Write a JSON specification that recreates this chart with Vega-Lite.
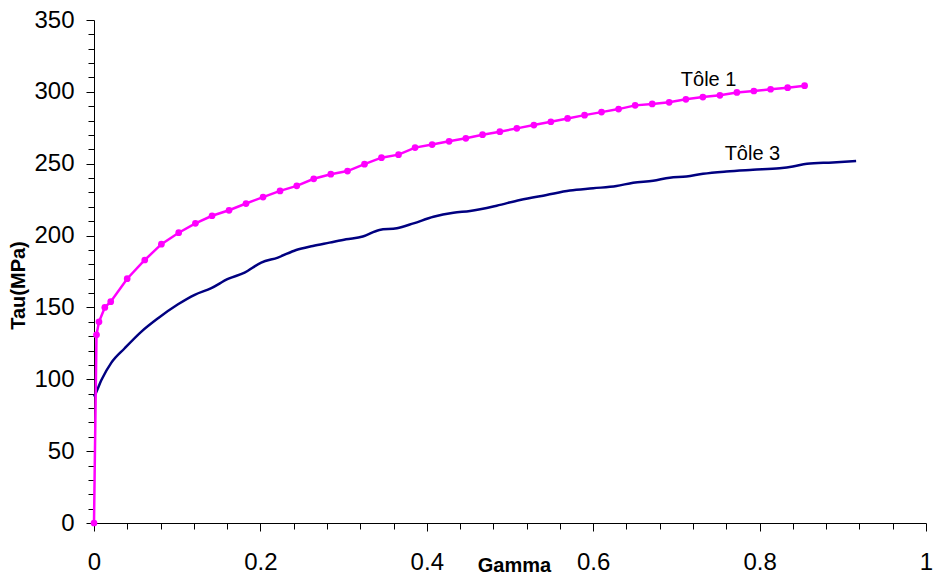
{
  "$schema": "https://vega.github.io/schema/vega-lite/v6.json",
  "width": 832,
  "height": 503,
  "autosize": {"type": "none"},
  "padding": {"left": 94, "top": 20, "right": 13, "bottom": 52},
  "background": "white",
  "config": {
    "view": {"stroke": null},
    "font": "Liberation Sans",
    "axis": {"grid": false, "domainColor": "black", "tickColor": "black", "labelColor": "black", "titleColor": "black", "domainWidth": 1, "tickWidth": 1}
  },
  "datasets": {
    "tole1": [
      {"gamma": 0, "tau": 0},
      {"gamma": 0.003, "tau": 131},
      {"gamma": 0.006, "tau": 140},
      {"gamma": 0.013, "tau": 150},
      {"gamma": 0.0201, "tau": 154},
      {"gamma": 0.0399, "tau": 170},
      {"gamma": 0.061, "tau": 183},
      {"gamma": 0.081, "tau": 194},
      {"gamma": 0.1018, "tau": 202},
      {"gamma": 0.1219, "tau": 208.5},
      {"gamma": 0.1419, "tau": 213.8},
      {"gamma": 0.1623, "tau": 217.6},
      {"gamma": 0.1827, "tau": 222.3},
      {"gamma": 0.2032, "tau": 226.8},
      {"gamma": 0.2236, "tau": 231.1},
      {"gamma": 0.2437, "tau": 234.6},
      {"gamma": 0.2641, "tau": 239.5},
      {"gamma": 0.2846, "tau": 242.7},
      {"gamma": 0.3047, "tau": 244.9},
      {"gamma": 0.3251, "tau": 249.7},
      {"gamma": 0.3455, "tau": 254.2},
      {"gamma": 0.366, "tau": 256.3},
      {"gamma": 0.3859, "tau": 261.2},
      {"gamma": 0.4064, "tau": 263.3},
      {"gamma": 0.4268, "tau": 265.6},
      {"gamma": 0.4469, "tau": 267.7},
      {"gamma": 0.467, "tau": 270.2},
      {"gamma": 0.4878, "tau": 272.3},
      {"gamma": 0.5082, "tau": 274.6},
      {"gamma": 0.5287, "tau": 276.9},
      {"gamma": 0.5491, "tau": 279.2},
      {"gamma": 0.5692, "tau": 281.5},
      {"gamma": 0.5896, "tau": 283.8},
      {"gamma": 0.61, "tau": 285.9},
      {"gamma": 0.6305, "tau": 288},
      {"gamma": 0.6504, "tau": 290.6},
      {"gamma": 0.6709, "tau": 291.6},
      {"gamma": 0.6913, "tau": 292.7},
      {"gamma": 0.7114, "tau": 294.8},
      {"gamma": 0.7318, "tau": 296.4},
      {"gamma": 0.7523, "tau": 297.6},
      {"gamma": 0.7727, "tau": 299.6},
      {"gamma": 0.7931, "tau": 300.6},
      {"gamma": 0.8132, "tau": 301.8},
      {"gamma": 0.8337, "tau": 302.9},
      {"gamma": 0.8541, "tau": 304.3}
    ],
    "tole3": [
      {"gamma": 0, "tau": 88},
      {"gamma": 0.001, "tau": 89},
      {"gamma": 0.0089, "tau": 99.5},
      {"gamma": 0.0209, "tau": 111.6},
      {"gamma": 0.0369, "tau": 121.6},
      {"gamma": 0.057, "tau": 133.2},
      {"gamma": 0.077, "tau": 142.5},
      {"gamma": 0.101, "tau": 152.2},
      {"gamma": 0.121, "tau": 158.8},
      {"gamma": 0.141, "tau": 163.4},
      {"gamma": 0.161, "tau": 169.8},
      {"gamma": 0.181, "tau": 174.2},
      {"gamma": 0.201, "tau": 181.2},
      {"gamma": 0.221, "tau": 184.7},
      {"gamma": 0.243, "tau": 190},
      {"gamma": 0.263, "tau": 192.8},
      {"gamma": 0.283, "tau": 195.1},
      {"gamma": 0.303, "tau": 197.4},
      {"gamma": 0.323, "tau": 199.3},
      {"gamma": 0.343, "tau": 203.9},
      {"gamma": 0.364, "tau": 205.1},
      {"gamma": 0.384, "tau": 208.5},
      {"gamma": 0.408, "tau": 213.1},
      {"gamma": 0.432, "tau": 215.9},
      {"gamma": 0.452, "tau": 217.1},
      {"gamma": 0.484, "tau": 220.8},
      {"gamma": 0.512, "tau": 224.8},
      {"gamma": 0.544, "tau": 228.3},
      {"gamma": 0.572, "tau": 231.3},
      {"gamma": 0.6, "tau": 232.9},
      {"gamma": 0.628, "tau": 234.5},
      {"gamma": 0.648, "tau": 236.8},
      {"gamma": 0.672, "tau": 238.2},
      {"gamma": 0.692, "tau": 240.3},
      {"gamma": 0.712, "tau": 241.1},
      {"gamma": 0.732, "tau": 243},
      {"gamma": 0.76, "tau": 244.6},
      {"gamma": 0.792, "tau": 245.8},
      {"gamma": 0.824, "tau": 246.9},
      {"gamma": 0.84, "tau": 248.1},
      {"gamma": 0.857, "tau": 250},
      {"gamma": 0.888, "tau": 250.9},
      {"gamma": 0.916, "tau": 251.9}
    ],
    "labels": [
      {"gamma": 0.7387, "tau": 303.8, "label": "Tôle 1"},
      {"gamma": 0.7914, "tau": 252.8, "label": "Tôle 3"}
    ]
  },
  "layer": [
    {
      "data": {"name": "tole3"},
      "mark": {"type": "line", "color": "#000080", "strokeWidth": 2.5, "interpolate": "monotone"},
      "encoding": {
        "x": {
          "field": "gamma", "type": "quantitative",
          "scale": {"domain": [0, 1], "nice": false, "zero": false},
          "axis": {
            "orient": "bottom", "values": [0, 0.2, 0.4, 0.6, 0.8, 1], "format": "~g",
            "tickSize": 8, "labelFontSize": 24, "labelPadding": 19, "labelFlush": false, "labelOverlap": false, "labelBound": false,
            "title": "Gamma", "titleFontSize": 20, "titleFontWeight": "bold",
            "titleX": 420, "titleY": 48, "titleBaseline": "alphabetic", "titleAlign": "center"
          }
        },
        "y": {
          "field": "tau", "type": "quantitative",
          "scale": {"domain": [0, 350], "nice": false},
          "axis": {
            "orient": "left", "values": [0, 50, 100, 150, 200, 250, 300, 350],
            "tickSize": 8, "labelFontSize": 24, "labelPadding": 12, "labelOverlap": false,
            "title": "Tau(MPa)", "titleFontSize": 20, "titleFontWeight": "bold",
            "titleX": -76, "titleY": 265, "titleBaseline": "middle", "titleAlign": "center", "titleAngle": -90
          }
        }
      }
    },
    {
      "data": {"name": "tole1"},
      "mark": {"type": "line", "color": "#FF00FF", "strokeWidth": 2.5, "point": {"filled": true, "size": 45, "color": "#FF00FF"}},
      "encoding": {
        "x": {
          "field": "gamma", "type": "quantitative",
          "axis": {
            "orient": "bottom", "values": [0.04, 0.08, 0.12, 0.16, 0.24, 0.28, 0.32, 0.36, 0.44, 0.48, 0.52, 0.56, 0.64, 0.68, 0.72, 0.76, 0.84, 0.88, 0.92, 0.96],
            "labels": false, "domain": false, "tickSize": 6, "title": null
          }
        },
        "y": {
          "field": "tau", "type": "quantitative",
          "axis": {
            "orient": "left", "values": [10, 20, 30, 40, 60, 70, 80, 90, 110, 120, 130, 140, 160, 170, 180, 190, 210, 220, 230, 240, 260, 270, 280, 290, 310, 320, 330, 340],
            "labels": false, "domain": false, "tickSize": 6, "title": null
          }
        }
      }
    },
    {
      "data": {"name": "labels"},
      "mark": {"type": "text", "fontSize": 20, "color": "black", "align": "center", "baseline": "alphabetic"},
      "encoding": {
        "x": {"field": "gamma", "type": "quantitative", "axis": null},
        "y": {"field": "tau", "type": "quantitative", "axis": null},
        "text": {"field": "label"}
      }
    }
  ],
  "resolve": {"axis": {"x": "independent", "y": "independent"}}
}
